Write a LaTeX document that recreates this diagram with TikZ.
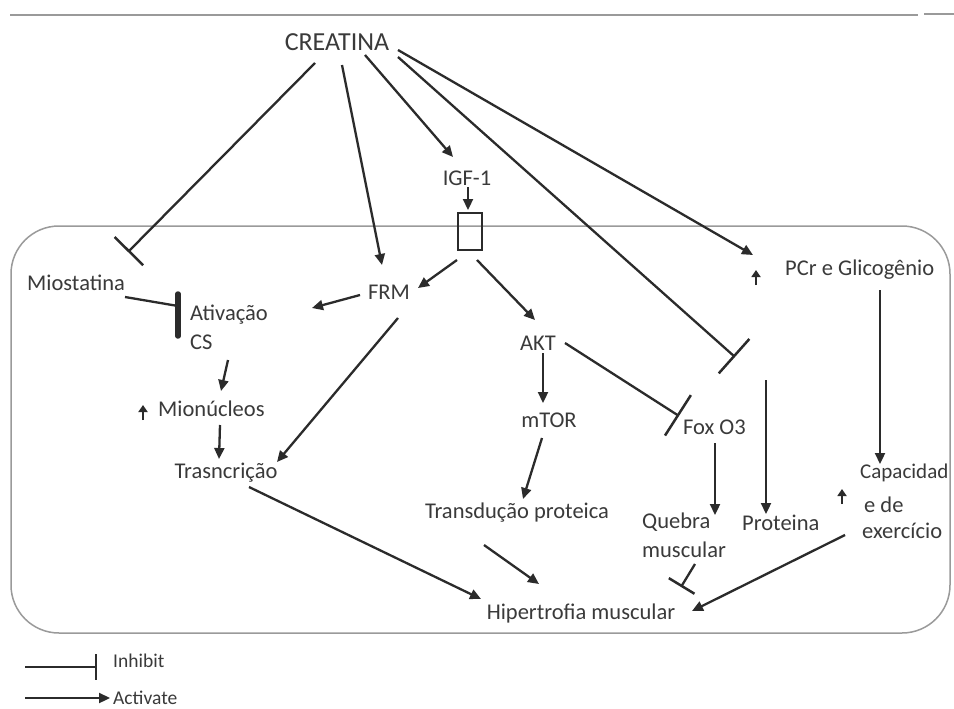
\documentclass[tikz,border=0pt]{standalone}
\usepackage{fontspec}
\setmainfont{Carlito}
\usetikzlibrary{arrows.meta}
\definecolor{ink}{HTML}{2B2B2B}
\definecolor{txt}{HTML}{3A3A3A}
\definecolor{frame}{HTML}{9A9A9A}
\tikzset{
  lbl/.style={inner sep=0pt, text=txt, font=\fontsize{22.5}{24}\selectfont},
  lbll/.style={lbl, anchor=west},
  act/.style={draw=ink, line width=2.3pt, -{Triangle[length=11pt,width=10pt]}},
  inh/.style={draw=ink, line width=2.3pt, -{Bar[width=#1, line width=2.5pt]}},
  inh/.default=40pt,
  up/.style={draw=ink, line width=2.2pt, -{Triangle[length=7pt,width=9pt]}},
}
\begin{document}
\begin{tikzpicture}[x=1pt,y=-1pt]
\useasboundingbox (0,0) rectangle (954,709);
\fill[white] (0,0) rectangle (954,709);
% top rule and cell frame
\draw[frame, line width=1.8pt] (10,15) -- (918,15);
\draw[frame, line width=1.3pt] (924,14) -- (954,14);
\draw[frame, line width=1.5pt, rounded corners=48pt] (11,226) rectangle (950,633);

% nodes
\node[inner sep=0pt, text=txt, font=\fontsize{26}{28}\selectfont] (creat) at (337,42) {CREATINA};
\node[lbl] (igf) at (467,178) {IGF-1};
\draw[ink, line width=1.5pt] (458,213) rectangle (482,250);
\node[lbll] (mio) at (27,283) {Miostatina};
\node[lbll] (ativ) at (190,315) {Ativação};
\node[lbll] (cs) at (190,342) {CS};
\node[lbll] (mion) at (158,409) {Mionúcleos};
\node[lbl] (trasc) at (226,473) {Trasncrição};
\node[lbl] (frm) at (389,292) {FRM};
\node[lbl] (akt) at (538,343) {AKT};
\node[lbl] (mtor) at (549,420) {mTOR};
\node[lbll] (fox) at (683,427) {Fox O3};
\node[lbll] (pcr) at (785,270) {PCr e Glicogênio};
\node[lbl] (transd) at (517,513) {Transdução proteica};
\node[lbll] (queb) at (642,522) {Quebra};
\node[lbll] (musc) at (642,550) {muscular};
\node[lbll] (prot) at (742,523) {Proteina};
\node[lbll, font=\fontsize{21}{23}\selectfont] (cap) at (860,473) {Capacidad};
\node[lbll] (ede) at (864,505) {e de};
\node[lbll] (exer) at (862,531) {exercício};
\node[lbl] (hiper) at (581,613) {Hipertrofia muscular};

% small up arrows
\coordinate (u1a) at (143,420); \coordinate (u1b) at (143,405);
\coordinate (u2a) at (756,285); \coordinate (u2b) at (756,270);
\coordinate (u3a) at (842,504); \coordinate (u3b) at (842,489);
\draw[up] (u1a) -- (u1b);
\draw[up] (u2a) -- (u2b);
\draw[up] (u3a) -- (u3b);

% connector endpoints
\coordinate (c1) at (315,63);  \coordinate (e1) at (128,252);
\coordinate (c2) at (342,65);  \coordinate (e2) at (382,265);
\coordinate (c3) at (365,55);  \coordinate (e3) at (453,157);
\coordinate (c4) at (398,57);  \coordinate (e4) at (735,357);
\coordinate (c5) at (398,50);  \coordinate (e5) at (753,255);
\coordinate (c6) at (468,187); \coordinate (e6) at (468,210);
\coordinate (c7) at (457,260); \coordinate (e7) at (418,288);
\coordinate (c8) at (477,260); \coordinate (e8) at (535,320);
\coordinate (c9) at (125,297); \coordinate (e9) at (178,306);
\coordinate (c10) at (360,295); \coordinate (e10) at (312,308);
\coordinate (c11) at (398,318); \coordinate (e11) at (277,462);
\coordinate (c12) at (228,360); \coordinate (e12) at (221,391);
\coordinate (c13) at (220,425); \coordinate (e13) at (219,459);
\coordinate (c14) at (543,353); \coordinate (e14) at (543,403);
\coordinate (c15) at (565,343); \coordinate (e15) at (679,416);
\coordinate (c16) at (542,438); \coordinate (e16) at (523,499);
\coordinate (c17) at (715,443); \coordinate (e17) at (715,515);
\coordinate (c18) at (766,380); \coordinate (e18) at (766,514);
\coordinate (c19) at (880,290); \coordinate (e19) at (880,464);
\coordinate (c20) at (249,487); \coordinate (e20) at (481,599);
\coordinate (c21) at (484,545); \coordinate (e21) at (539,584);
\coordinate (c22) at (695,564); \coordinate (e22) at (681,587);
\coordinate (c23) at (845,535); \coordinate (e23) at (692,611);

\draw[inh] (c1) -- (e1);
\draw[act] (c2) -- (e2);
\draw[act] (c3) -- (e3);
\draw[inh=46pt] (c4) -- (e4);
\draw[act] (c5) -- (e5);
\draw[act] (c6) -- (e6);
\draw[act] (c7) -- (e7);
\draw[act] (c8) -- (e8);
\draw[ink, line width=2.3pt] (c9) -- (e9);
\draw[ink, line width=5.5pt, line cap=round] (178,294) -- (178,336);
\draw[act] (c10) -- (e10);
\draw[act] (c11) -- (e11);
\draw[act] (c12) -- (e12);
\draw[act] (c13) -- (e13);
\draw[act] (c14) -- (e14);
\draw[inh=48pt] (c15) -- (e15);
\draw[act] (c16) -- (e16);
\draw[act] (c17) -- (e17);
\draw[act] (c18) -- (e18);
\draw[act] (c19) -- (e19);
\draw[act] (c20) -- (e20);
\draw[act] (c21) -- (e21);
\draw[inh=30pt] (c22) -- (e22);
\draw[act] (c23) -- (e23);

% legend
\coordinate (l1a) at (25,667); \coordinate (l1b) at (97,667);
\coordinate (l2a) at (25,698); \coordinate (l2b) at (110,698);
\draw[inh=26pt] (l1a) -- (l1b);
\draw[act] (l2a) -- (l2b);
\node[inner sep=0pt, anchor=west, text=txt, font=\fontsize{19.5}{21}\selectfont] (linh) at (113,661) {Inhibit};
\node[inner sep=0pt, anchor=west, text=txt, font=\fontsize{19.5}{21}\selectfont] (lact) at (113,698) {Activate};
\end{tikzpicture}
\end{document}
